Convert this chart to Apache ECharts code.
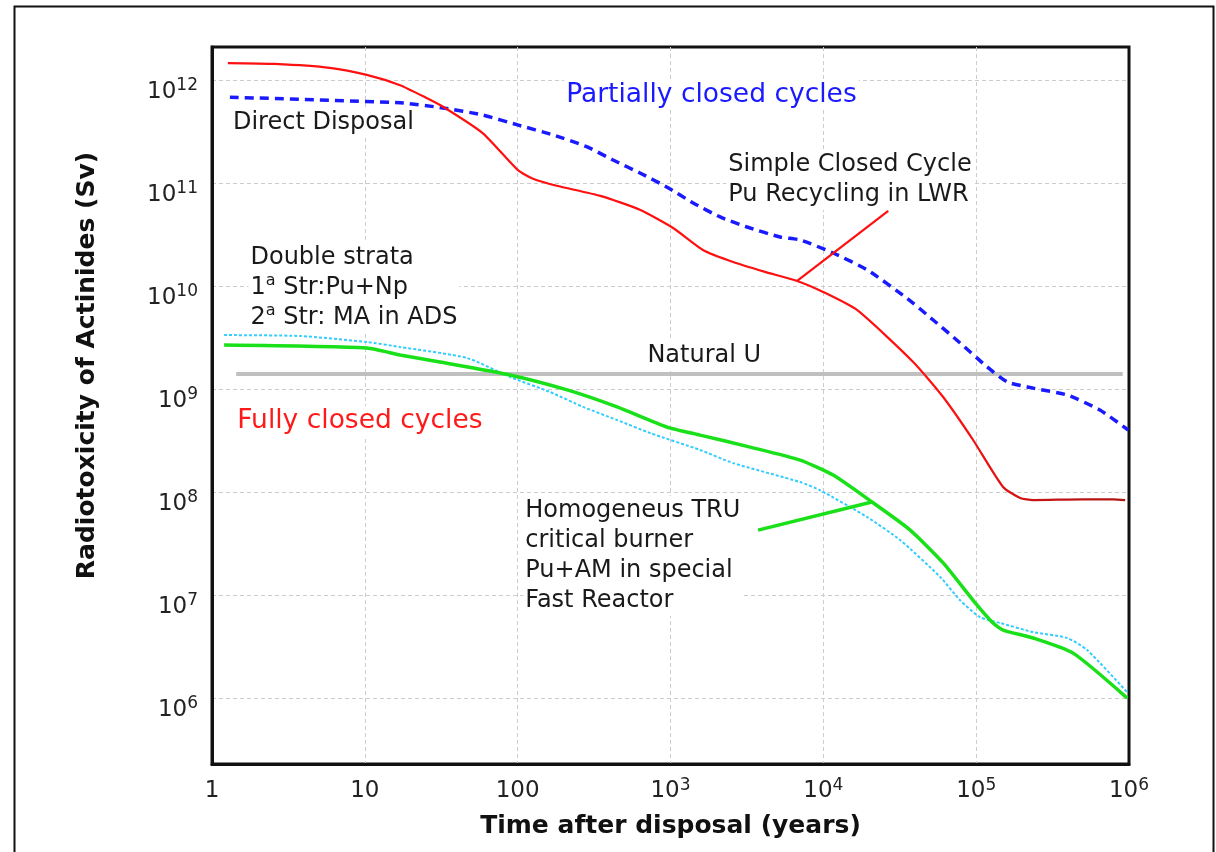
<!DOCTYPE html>
<html>
<head>
<meta charset="utf-8">
<title>Radiotoxicity of Actinides</title>
<script src="https://cdn.jsdelivr.net/npm/echarts@6/dist/echarts.min.js"></script>
<style>
  html, body { margin: 0; padding: 0; background: #fff; }
  #chart { width: 1216px; height: 852px; }
</style>
</head>
<body>
<div id="chart"></div>
<script>
  // curves: time after disposal (years) and radiotoxicity (Sv)
  var directYears = [1.31, 17, 32.5, 59, 100, 170, 285, 421, 631, 950, 1406, 2113, 3170, 5210, 7050, 11600, 19400, 35300, 52300, 78500, 118000, 160000, 236000, 394000, 645000, 988000]
  var directSv = [6.8e11, 6.0e11, 5.35e11, 4.57e11, 3.66e11, 2.93e11, 2.24e11, 1.67e11, 1.25e11, 9.1e10, 6.4e10, 4.68e10, 3.74e10, 2.99e10, 2.8e10, 2.09e10, 1.43e10, 7.6e9, 4.68e9, 2.8e9, 1.64e9, 1.17e9, 1.02e9, 8.75e8, 6.25e8, 4.0e8]

  var simpleYears = [1.27, 2.58, 5.9, 10.3, 17, 24.8, 32.5, 59, 100, 126, 180, 347, 630, 1040, 1630, 2570, 4100, 6740, 9970, 16600, 38700, 60800, 95500, 150000, 194000, 236000, 501000, 789000, 944000]
  var simpleSv = [1.46e12, 1.43e12, 1.31e12, 1.12e12, 8.9e11, 6.8e11, 5.5e11, 3.05e11, 1.34e11, 1.1e11, 9.4e10, 7.5e10, 5.5e10, 3.66e10, 2.24e10, 1.71e10, 1.38e10, 1.12e10, 8.75e9, 5.85e9, 1.83e9, 8.36e8, 3.2e8, 1.12e8, 8.75e7, 8.35e7, 8.5e7, 8.5e7, 8.35e7]

  var truYears = [1.2, 10.3, 17, 31, 89, 211, 447, 950, 1563, 3320, 7050, 11600, 20800, 37000, 60800, 95500, 129000, 150000, 236000, 431000, 973000]
  var truSv = [2.67e9, 2.5e9, 2.14e9, 1.83e9, 1.37e9, 9.8e8, 6.7e8, 4.27e8, 3.57e8, 2.73e8, 2.04e8, 1.46e8, 8.0e7, 4.27e7, 2.05e7, 8.9e6, 5.35e6, 4.57e6, 3.83e6, 2.73e6, 1.0e6]

  var strataYears = [1.2, 3.77, 10.3, 17, 46.6, 89, 163, 268, 447, 735, 1563, 2570, 7050, 9530, 19400, 31800, 58100, 78500, 106000, 144000, 236000, 394000, 532000, 973000]
  var strataSv = [3.34e9, 3.27e9, 2.86e9, 2.56e9, 2.0e9, 1.31e9, 9.35e8, 6.7e8, 5.0e8, 3.74e8, 2.56e8, 1.91e8, 1.25e8, 1.04e8, 5.7e7, 3.42e7, 1.5e7, 8.9e6, 6.1e6, 5.35e6, 4.37e6, 3.83e6, 2.93e6, 1.14e6]

  var natUYears = [1.44, 910000]
  var natUSv = [1.4e9, 1.4e9]

  // leader lines from the notes to their curves
  var simplePointerYears = [6740, 26600]
  var simplePointerSv = [1.12e10, 5.35e10]
  var truPointerYears = [3740, 20800]
  var truPointerSv = [4.27e7, 8.0e7]

  // notes, anchored at their left edge / vertical middle
  var noteTexts = [
    'Partially closed cycles',
    'Direct Disposal',
    'Simple Closed Cycle\nPu Recycling in LWR',
    'Double strata\n1{s|a} Str:Pu+Np\n2{s|a} Str: MA in ADS',
    'Natural U',
    'Fully closed cycles',
    'Homogeneus TRU\ncritical burner\nPu+AM in special\nFast Reactor'
  ]
  var noteYears = [200, 1.32, 2300, 1.72, 680, 1.41, 108]
  var noteSv = [7.14e11, 3.83e11, 1.07e11, 9.66e9, 2.09e9, 4.89e8, 2.39e7]

  var xMin = 1
  var xMax = 1e6
  var yMin = Math.pow(10, 5.36)
  var yMax = Math.pow(10, 12.32)

  var font = 'DejaVu Sans'

  function pairs(xs, ys) {
    return xs.map(function (x, i) { return [x, ys[i]] })
  }

  function powerLabel(v) {
    var e = Math.log10(v)
    if (Math.abs(e - Math.round(e)) > 0.01) return ''
    e = Math.round(e)
    if (e < 3) return '{b|' + Math.round(Math.pow(10, e)) + '}'
    return '{b|10}{s|' + e + '}'
  }

  var tickRich = {
    b: { fontFamily: font, fontSize: 23, lineHeight: 26, color: '#222', verticalAlign: 'bottom' },
    s: { fontFamily: font, fontSize: 17, lineHeight: 17, color: '#222', verticalAlign: 'top' }
  }

  var noteColors = ['#1a1aff', '#1a1a1a', '#1a1a1a', '#1a1a1a', '#1a1a1a', '#ff1a1a', '#1a1a1a']
  var noteSizes = [26.5, 24, 24, 24, 24, 26.5, 24]
  var noteData = noteTexts.map(function (t, i) {
    return {
      value: [noteYears[i], noteSv[i]],
      label: {
        formatter: t,
        color: noteColors[i],
        fontSize: noteSizes[i]
      }
    }
  })

  var chart = echarts.init(document.getElementById('chart'))
  chart.setOption({
    animation: false,
    backgroundColor: '#fff',
    graphic: [{
      type: 'rect',
      left: 12,
      top: 4,
      z: -10,
      shape: { width: 1199, height: 900 },
      style: { fill: 'none', stroke: '#111', lineWidth: 2 }
    }],
    grid: {
      left: 212,
      right: 87,
      top: 47,
      bottom: 88,
      show: true,
      borderColor: '#111',
      borderWidth: 3
    },
    xAxis: {
      type: 'log',
      min: xMin,
      max: xMax,
      name: 'Time after disposal (years)',
      nameLocation: 'middle',
      nameGap: 50,
      nameMoveOverlap: false,
      nameTextStyle: { fontFamily: font, fontWeight: 'bold', fontSize: 25, color: '#111' },
      axisLine: { lineStyle: { color: '#111', width: 3 } },
      axisTick: { show: false },
      axisLabel: { margin: 13, formatter: powerLabel, rich: tickRich },
      splitLine: {
        show: true,
        showMinLine: false,
        showMaxLine: false,
        lineStyle: { color: '#cccccc', width: 1, type: [4, 3] }
      }
    },
    yAxis: {
      type: 'log',
      min: yMin,
      max: yMax,
      name: 'Radiotoxicity of Actinides (Sv)',
      nameLocation: 'middle',
      nameGap: 112,
      nameMoveOverlap: false,
      nameTextStyle: { fontFamily: font, fontWeight: 'bold', fontSize: 25, color: '#111', padding: [0, 0, 0, 80] },
      axisLine: { lineStyle: { color: '#111', width: 3 } },
      axisTick: { show: false },
      axisLabel: {
        margin: 14,
        padding: [21, 0, 0, 0],
        showMinLabel: false,
        showMaxLabel: false,
        formatter: powerLabel,
        rich: tickRich
      },
      splitLine: {
        show: true,
        showMinLine: false,
        showMaxLine: false,
        lineStyle: { color: '#cccccc', width: 1, type: [4, 3] }
      }
    },
    series: [
      {
        name: 'Notes',
        type: 'scatter',
        z: 1,
        silent: true,
        symbolSize: 1,
        itemStyle: { color: 'rgba(0,0,0,0)', opacity: 1 },
        label: {
          show: true,
          position: 'right',
          distance: 0,
          fontFamily: font,
          fontSize: 24,
          lineHeight: 30,
          align: 'left',
          opacity: 1,
          backgroundColor: '#fff',
          padding: [0, 2],
          rich: {
            s: { fontFamily: font, fontSize: 16, lineHeight: 18, color: '#1a1a1a', verticalAlign: 'top' }
          }
        },
        data: noteData
      },
      {
        name: 'Natural U',
        type: 'line',
        z: 3,
        showSymbol: false,
        lineStyle: { color: '#c0c0c0', width: 4 },
        data: pairs(natUYears, natUSv)
      },
      {
        name: 'Direct Disposal',
        type: 'line',
        z: 4,
        showSymbol: false,
        smooth: 0.2,
        lineStyle: { color: '#1a1aff', width: 3.5, type: [9, 6] },
        data: pairs(directYears, directSv)
      },
      {
        name: 'Simple Closed Cycle',
        type: 'line',
        z: 4,
        showSymbol: false,
        smooth: 0.2,
        lineStyle: {
          width: 2.2,
          color: new echarts.graphic.LinearGradient(0, 0, 1, 0, [
            { offset: 0, color: '#ff1010' },
            { offset: 0.8, color: '#ff1010' },
            { offset: 0.9, color: '#c81414' },
            { offset: 1, color: '#b01414' }
          ])
        },
        data: pairs(simpleYears, simpleSv)
      },
      {
        name: 'Simple pointer',
        type: 'line',
        z: 4,
        showSymbol: false,
        lineStyle: { color: '#ff1010', width: 2.2 },
        data: pairs(simplePointerYears, simplePointerSv)
      },
      {
        name: 'Double strata',
        type: 'line',
        z: 4,
        showSymbol: false,
        smooth: 0.2,
        lineStyle: { color: '#33ccff', width: 2, type: [3, 2] },
        data: pairs(strataYears, strataSv)
      },
      {
        name: 'Homogeneus TRU',
        type: 'line',
        z: 5,
        showSymbol: false,
        smooth: 0.2,
        lineStyle: { color: '#19e019', width: 3.5 },
        data: pairs(truYears, truSv)
      },
      {
        name: 'TRU pointer',
        type: 'line',
        z: 5,
        showSymbol: false,
        lineStyle: { color: '#19e019', width: 3.5 },
        data: pairs(truPointerYears, truPointerSv)
      }
    ]
  })
</script>
</body>
</html>
